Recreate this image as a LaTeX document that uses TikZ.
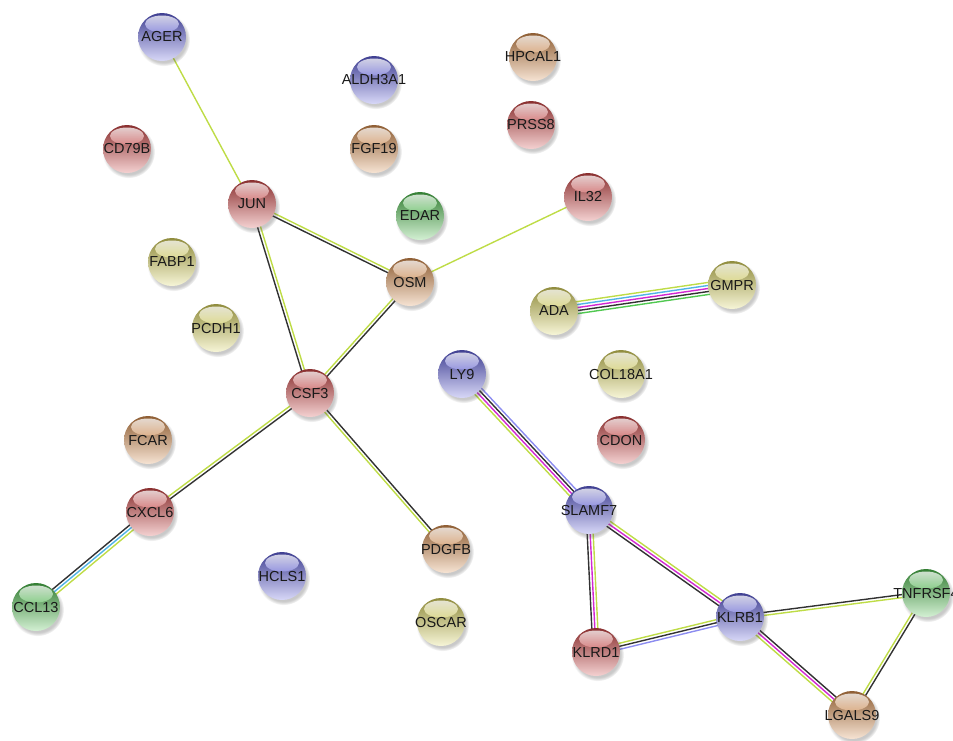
\documentclass[tikz,border=0pt]{standalone}
\usepackage{fontspec}
\setmainfont{Liberation Sans}
\usetikzlibrary{calc,shadows}
\pgfdeclarelayer{bg}
\pgfsetlayers{bg,main}
\definecolor{nred}{RGB}{212,72,72}
\definecolor{nblue}{RGB}{98,98,225}
\definecolor{norange}{RGB}{220,145,80}
\definecolor{nyellow}{RGB}{222,216,95}
\definecolor{ngreen}{RGB}{80,195,80}
\definecolor{tm}{RGB}{190,220,70}
\definecolor{blk}{RGB}{50,50,50}
\definecolor{db}{RGB}{80,180,230}
\definecolor{ex}{RGB}{210,40,210}
\definecolor{hom}{RGB}{140,140,240}
\definecolor{nb}{RGB}{80,200,80}
\newcommand\gl[1]{\makebox[0pt]{#1}}
\tikzset{
  gn/.style={circle, minimum size=48pt, inner sep=0pt,
    font=\fontsize{14.5}{14.5}\selectfont, text=black!90,
    circular drop shadow={shadow xshift=1.5pt, shadow yshift=-2.5pt, opacity=0.3, fill=black!70},
    path picture={
      \shade[top color=#1!65!black, middle color=#1!95!white, bottom color=#1!25!white]
        (path picture bounding box.south west) rectangle (path picture bounding box.north east);
      \shade[top color=white, bottom color=#1!60!white, opacity=0.75]
        ($(path picture bounding box.north)+(0pt,-11pt)$) ellipse [x radius=17pt, y radius=8.5pt];
    }},
  gline/.style={line width=1.4pt}
}
\newcommand\gedge[3]{%
  \foreach \c/\o in {#3}{%
    \draw[gline,\c] ($(#1.center)!\o!90:(#2.center)$) -- ($(#2.center)!\o!-90:(#1.center)$);
  }}
\begin{document}
\begin{tikzpicture}[x=1pt,y=-1pt]
\useasboundingbox (0,0) rectangle (953,740);
\node[gn=nblue] (AGER) at (162,37) {\gl{AGER}};
\node[gn=nblue] (ALDH3A1) at (374,80) {\gl{ALDH3A1}};
\node[gn=norange] (HPCAL1) at (533,57) {\gl{HPCAL1}};
\node[gn=nred] (PRSS8) at (531,125) {\gl{PRSS8}};
\node[gn=nred] (CD79B) at (127,149) {\gl{CD79B}};
\node[gn=norange] (FGF19) at (374,149) {\gl{FGF19}};
\node[gn=nred] (JUN) at (252,204) {\gl{JUN}};
\node[gn=ngreen] (EDAR) at (420,216) {\gl{EDAR}};
\node[gn=nred] (IL32) at (588,197) {\gl{IL32}};
\node[gn=nyellow] (FABP1) at (172,262) {\gl{FABP1}};
\node[gn=norange] (OSM) at (410,282) {\gl{OSM}};
\node[gn=nyellow] (ADA) at (554,311) {\gl{ADA}};
\node[gn=nyellow] (GMPR) at (732,285) {\gl{GMPR}};
\node[gn=nyellow] (PCDH1) at (216,328) {\gl{PCDH1}};
\node[gn=nblue] (LY9) at (462,374) {\gl{LY9}};
\node[gn=nyellow] (COL18A1) at (621,374) {\gl{COL18A1}};
\node[gn=nred] (CSF3) at (310,393) {\gl{CSF3}};
\node[gn=norange] (FCAR) at (148,440) {\gl{FCAR}};
\node[gn=nred] (CDON) at (621,440) {\gl{CDON}};
\node[gn=nred] (CXCL6) at (150,512) {\gl{CXCL6}};
\node[gn=nblue] (SLAMF7) at (589,510) {\gl{SLAMF7}};
\node[gn=norange] (PDGFB) at (446,549) {\gl{PDGFB}};
\node[gn=nblue] (HCLS1) at (282,576) {\gl{HCLS1}};
\node[gn=ngreen] (CCL13) at (36,607) {\gl{CCL13}};
\node[gn=nyellow] (OSCAR) at (441,622) {\gl{OSCAR}};
\node[gn=nred] (KLRD1) at (596,652) {\gl{KLRD1}};
\node[gn=nblue] (KLRB1) at (740,617) {\gl{KLRB1}};
\node[gn=ngreen] (TNFRSF4) at (926,593) {\gl{TNFRSF4}};
\node[gn=norange] (LGALS9) at (852,715) {\gl{LGALS9}};
\begin{pgfonlayer}{bg}
\gedge{AGER}{JUN}{tm/0pt}
\gedge{JUN}{OSM}{tm/1.5pt, blk/-1.5pt}
\gedge{JUN}{CSF3}{tm/1.5pt, blk/-1.5pt}
\gedge{OSM}{IL32}{tm/0pt}
\gedge{OSM}{CSF3}{tm/-1.5pt, blk/1.5pt}
\gedge{CSF3}{CXCL6}{tm/-1.5pt, blk/1.5pt}
\gedge{CSF3}{PDGFB}{tm/-1.5pt, blk/1.5pt}
\gedge{CXCL6}{CCL13}{blk/-3pt, db/0pt, tm/3pt}
\gedge{ADA}{GMPR}{tm/6pt, db/3pt, ex/0pt, blk/-3pt, nb/-6pt}
\gedge{LY9}{SLAMF7}{hom/4.5pt, blk/1.5pt, ex/-1.5pt, tm/-4.5pt}
\gedge{SLAMF7}{KLRD1}{blk/-3pt, ex/0pt, tm/3pt}
\gedge{SLAMF7}{KLRB1}{tm/3pt, ex/0pt, blk/-3pt}
\gedge{KLRD1}{KLRB1}{tm/3pt, blk/0pt, hom/-3pt}
\gedge{KLRB1}{TNFRSF4}{blk/1.5pt, tm/-1.5pt}
\gedge{KLRB1}{LGALS9}{blk/3pt, ex/0pt, tm/-3pt}
\gedge{TNFRSF4}{LGALS9}{tm/-1.5pt, blk/1.5pt}
\end{pgfonlayer}
\end{tikzpicture}
\end{document}
